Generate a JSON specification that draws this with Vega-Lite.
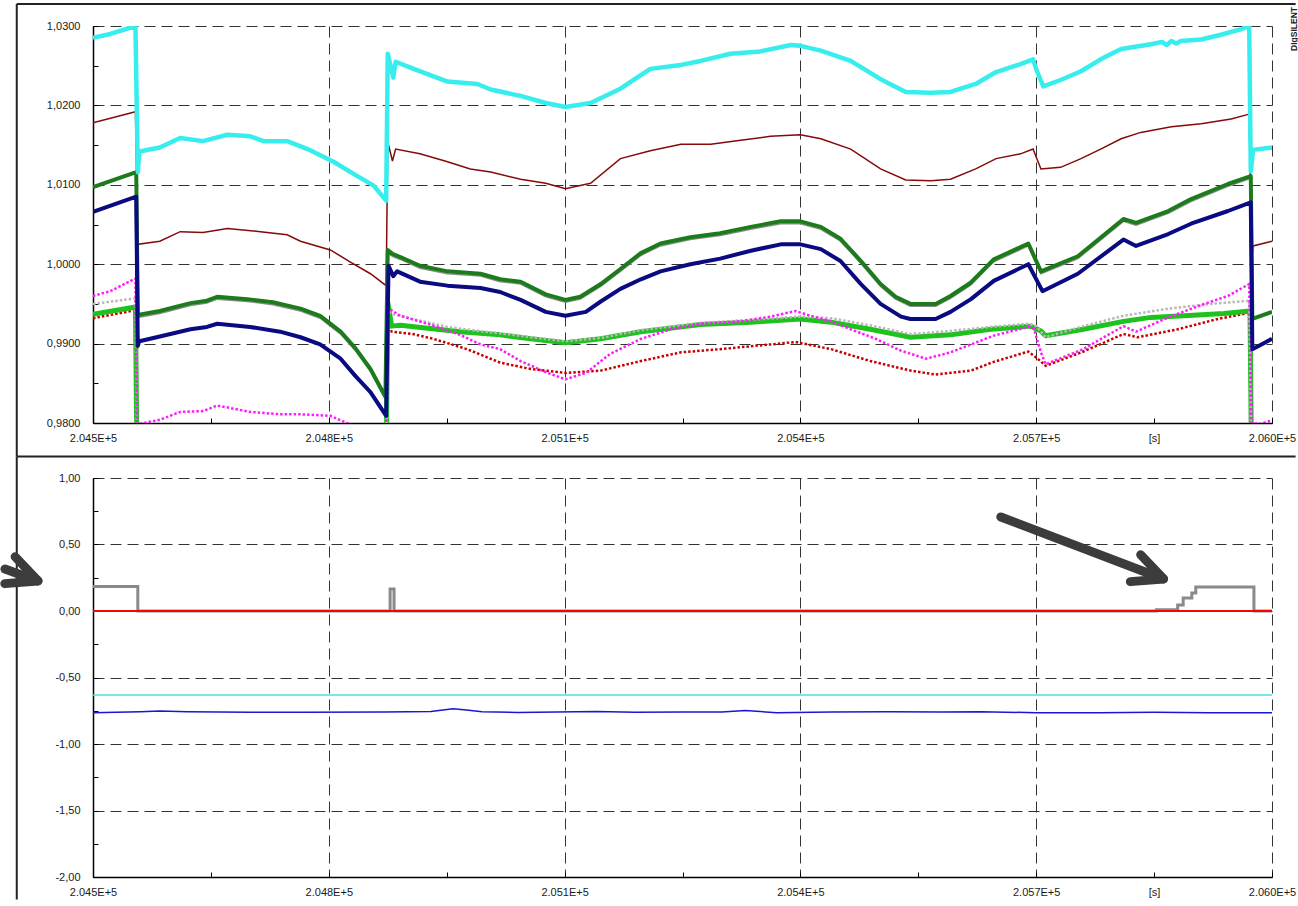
{
  "$schema": "https://vega.github.io/schema/vega-lite/v6.json",
  "background": "white",
  "padding": {"left": 0, "top": 3, "right": 0, "bottom": 0},
  "spacing": 55,
  "bounds": "flush",
  "config": {
    "view": {"stroke": null},
    "axis": {
      "labelFont": "Liberation Sans",
      "labelFontSize": 11,
      "labelColor": "#1a1a1a",
      "domainColor": "#000000",
      "domainWidth": 1.5,
      "tickColor": "#000000",
      "tickWidth": 1,
      "gridColor": "#333333",
      "gridDash": [11, 6],
      "gridWidth": 1,
      "labelOverlap": false
    }
  },
  "datasets": {
    "top": [
      {"s":"cy","t":204500,"v":1.0285},{"s":"cy","t":204522,"v":1.0290},{"s":"cy","t":204554,"v":1.0300},{"s":"cy","t":204557,"v":1.0116},{"s":"cy","t":204559,"v":1.0142},{"s":"cy","t":204585,"v":1.0147},{"s":"cy","t":204611,"v":1.0159},{"s":"cy","t":204640,"v":1.0155},{"s":"cy","t":204671,"v":1.0163},{"s":"cy","t":204700,"v":1.0161},{"s":"cy","t":204717,"v":1.0155},{"s":"cy","t":204747,"v":1.0155},{"s":"cy","t":204773,"v":1.0145},{"s":"cy","t":204806,"v":1.0129},{"s":"cy","t":204831,"v":1.0114},{"s":"cy","t":204857,"v":1.0099},{"s":"cy","t":204873,"v":1.0080},{"s":"cy","t":204875,"v":1.0265},{"s":"cy","t":204882,"v":1.0235},{"s":"cy","t":204885,"v":1.0255},{"s":"cy","t":204908,"v":1.0246},{"s":"cy","t":204951,"v":1.0230},{"s":"cy","t":204989,"v":1.0227},{"s":"cy","t":205006,"v":1.0220},{"s":"cy","t":205044,"v":1.0212},{"s":"cy","t":205076,"v":1.0203},{"s":"cy","t":205101,"v":1.0198},{"s":"cy","t":205133,"v":1.0203},{"s":"cy","t":205171,"v":1.0221},{"s":"cy","t":205209,"v":1.0246},{"s":"cy","t":205248,"v":1.0251},{"s":"cy","t":205273,"v":1.0256},{"s":"cy","t":205311,"v":1.0265},{"s":"cy","t":205349,"v":1.0268},{"s":"cy","t":205388,"v":1.0276},{"s":"cy","t":205400,"v":1.0275},{"s":"cy","t":205426,"v":1.0269},{"s":"cy","t":205464,"v":1.0256},{"s":"cy","t":205502,"v":1.0233},{"s":"cy","t":205534,"v":1.0217},{"s":"cy","t":205566,"v":1.0216},{"s":"cy","t":205591,"v":1.0217},{"s":"cy","t":205623,"v":1.0227},{"s":"cy","t":205649,"v":1.0242},{"s":"cy","t":205680,"v":1.0252},{"s":"cy","t":205696,"v":1.0258},{"s":"cy","t":205701,"v":1.0243},{"s":"cy","t":205709,"v":1.0224},{"s":"cy","t":205731,"v":1.0232},{"s":"cy","t":205757,"v":1.0243},{"s":"cy","t":205782,"v":1.0258},{"s":"cy","t":205808,"v":1.0271},{"s":"cy","t":205846,"v":1.0277},{"s":"cy","t":205860,"v":1.0280},{"s":"cy","t":205866,"v":1.0276},{"s":"cy","t":205872,"v":1.0281},{"s":"cy","t":205878,"v":1.0278},{"s":"cy","t":205884,"v":1.0281},{"s":"cy","t":205910,"v":1.0283},{"s":"cy","t":205935,"v":1.0289},{"s":"cy","t":205961,"v":1.0296},{"s":"cy","t":205971,"v":1.0300},{"s":"cy","t":205973,"v":1.0117},{"s":"cy","t":205976,"v":1.0144},{"s":"cy","t":206000,"v":1.0147},

      {"s":"mr","t":204500,"v":1.0178},{"s":"mr","t":204554,"v":1.0192},{"s":"mr","t":204557,"v":1.0025},{"s":"mr","t":204585,"v":1.0029},{"s":"mr","t":204611,"v":1.0041},{"s":"mr","t":204640,"v":1.0040},{"s":"mr","t":204671,"v":1.0045},{"s":"mr","t":204713,"v":1.0041},{"s":"mr","t":204747,"v":1.0037},{"s":"mr","t":204764,"v":1.0029},{"s":"mr","t":204802,"v":1.0018},{"s":"mr","t":204827,"v":1.0003},{"s":"mr","t":204853,"v":0.9988},{"s":"mr","t":204873,"v":0.9973},{"s":"mr","t":204875,"v":1.0154},{"s":"mr","t":204881,"v":1.0130},{"s":"mr","t":204885,"v":1.0145},{"s":"mr","t":204916,"v":1.0139},{"s":"mr","t":204951,"v":1.0129},{"s":"mr","t":204980,"v":1.0120},{"s":"mr","t":205006,"v":1.0116},{"s":"mr","t":205044,"v":1.0107},{"s":"mr","t":205076,"v":1.0102},{"s":"mr","t":205101,"v":1.0095},{"s":"mr","t":205133,"v":1.0102},{"s":"mr","t":205171,"v":1.0133},{"s":"mr","t":205209,"v":1.0143},{"s":"mr","t":205248,"v":1.0151},{"s":"mr","t":205286,"v":1.0151},{"s":"mr","t":205324,"v":1.0156},{"s":"mr","t":205362,"v":1.0161},{"s":"mr","t":205400,"v":1.0163},{"s":"mr","t":205426,"v":1.0158},{"s":"mr","t":205464,"v":1.0145},{"s":"mr","t":205502,"v":1.0120},{"s":"mr","t":205534,"v":1.0106},{"s":"mr","t":205566,"v":1.0105},{"s":"mr","t":205591,"v":1.0107},{"s":"mr","t":205623,"v":1.0120},{"s":"mr","t":205649,"v":1.0133},{"s":"mr","t":205680,"v":1.0139},{"s":"mr","t":205696,"v":1.0145},{"s":"mr","t":205706,"v":1.0120},{"s":"mr","t":205731,"v":1.0122},{"s":"mr","t":205757,"v":1.0133},{"s":"mr","t":205782,"v":1.0145},{"s":"mr","t":205808,"v":1.0158},{"s":"mr","t":205833,"v":1.0166},{"s":"mr","t":205872,"v":1.0173},{"s":"mr","t":205910,"v":1.0177},{"s":"mr","t":205948,"v":1.0183},{"s":"mr","t":205971,"v":1.0189},{"s":"mr","t":205974,"v":1.0007},{"s":"mr","t":205976,"v":1.0023},{"s":"mr","t":206000,"v":1.0029},

      {"s":"gy","t":204557,"v":0.9933},{"s":"gy","t":204585,"v":0.9938},{"s":"gy","t":204624,"v":0.9948},{"s":"gy","t":204645,"v":0.9951},{"s":"gy","t":204658,"v":0.9956},{"s":"gy","t":204696,"v":0.9953},{"s":"gy","t":204729,"v":0.9949},{"s":"gy","t":204764,"v":0.9941},{"s":"gy","t":204789,"v":0.9932},{"s":"gy","t":204815,"v":0.9912},{"s":"gy","t":204834,"v":0.9891},{"s":"gy","t":204853,"v":0.9865},{"s":"gy","t":204872,"v":0.9830},{"s":"gy","t":204875,"v":1.0014},{"s":"gy","t":204881,"v":1.0010},{"s":"gy","t":204891,"v":1.0006},{"s":"gy","t":204916,"v":0.9995},{"s":"gy","t":204951,"v":0.9988},{"s":"gy","t":204993,"v":0.9985},{"s":"gy","t":205018,"v":0.9978},{"s":"gy","t":205044,"v":0.9975},{"s":"gy","t":205076,"v":0.9959},{"s":"gy","t":205101,"v":0.9952},{"s":"gy","t":205120,"v":0.9956},{"s":"gy","t":205146,"v":0.9972},{"s":"gy","t":205171,"v":0.9991},{"s":"gy","t":205197,"v":1.0011},{"s":"gy","t":205222,"v":1.0023},{"s":"gy","t":205260,"v":1.0031},{"s":"gy","t":205298,"v":1.0036},{"s":"gy","t":205337,"v":1.0044},{"s":"gy","t":205375,"v":1.0051},{"s":"gy","t":205400,"v":1.0051},{"s":"gy","t":205426,"v":1.0044},{"s":"gy","t":205451,"v":1.0029},{"s":"gy","t":205477,"v":1.0001},{"s":"gy","t":205502,"v":0.9972},{"s":"gy","t":205521,"v":0.9956},{"s":"gy","t":205540,"v":0.9947},{"s":"gy","t":205572,"v":0.9947},{"s":"gy","t":205591,"v":0.9957},{"s":"gy","t":205617,"v":0.9974},{"s":"gy","t":205646,"v":1.0003},{"s":"gy","t":205690,"v":1.0023},{"s":"gy","t":205706,"v":0.9988},{"s":"gy","t":205753,"v":1.0007},{"s":"gy","t":205811,"v":1.0054},{"s":"gy","t":205827,"v":1.0049},{"s":"gy","t":205868,"v":1.0064},{"s":"gy","t":205897,"v":1.0079},{"s":"gy","t":205944,"v":1.0098},{"s":"gy","t":205972,"v":1.0108},

      {"s":"gr","t":204500,"v":1.0097},{"s":"gr","t":204555,"v":1.0116},{"s":"gr","t":204557,"v":0.9936},{"s":"gr","t":204585,"v":0.9941},{"s":"gr","t":204624,"v":0.9951},{"s":"gr","t":204645,"v":0.9954},{"s":"gr","t":204658,"v":0.9959},{"s":"gr","t":204696,"v":0.9956},{"s":"gr","t":204729,"v":0.9952},{"s":"gr","t":204764,"v":0.9944},{"s":"gr","t":204789,"v":0.9935},{"s":"gr","t":204815,"v":0.9915},{"s":"gr","t":204834,"v":0.9894},{"s":"gr","t":204853,"v":0.9868},{"s":"gr","t":204872,"v":0.9833},{"s":"gr","t":204875,"v":1.0018},{"s":"gr","t":204881,"v":1.0013},{"s":"gr","t":204891,"v":1.0009},{"s":"gr","t":204916,"v":0.9998},{"s":"gr","t":204951,"v":0.9991},{"s":"gr","t":204993,"v":0.9988},{"s":"gr","t":205018,"v":0.9981},{"s":"gr","t":205044,"v":0.9978},{"s":"gr","t":205076,"v":0.9962},{"s":"gr","t":205101,"v":0.9955},{"s":"gr","t":205120,"v":0.9959},{"s":"gr","t":205146,"v":0.9975},{"s":"gr","t":205171,"v":0.9994},{"s":"gr","t":205197,"v":1.0014},{"s":"gr","t":205222,"v":1.0026},{"s":"gr","t":205260,"v":1.0034},{"s":"gr","t":205298,"v":1.0039},{"s":"gr","t":205337,"v":1.0047},{"s":"gr","t":205375,"v":1.0054},{"s":"gr","t":205400,"v":1.0054},{"s":"gr","t":205426,"v":1.0047},{"s":"gr","t":205451,"v":1.0032},{"s":"gr","t":205477,"v":1.0004},{"s":"gr","t":205502,"v":0.9975},{"s":"gr","t":205521,"v":0.9959},{"s":"gr","t":205540,"v":0.9950},{"s":"gr","t":205572,"v":0.9950},{"s":"gr","t":205591,"v":0.9960},{"s":"gr","t":205617,"v":0.9977},{"s":"gr","t":205646,"v":1.0006},{"s":"gr","t":205690,"v":1.0026},{"s":"gr","t":205706,"v":0.9991},{"s":"gr","t":205753,"v":1.0010},{"s":"gr","t":205811,"v":1.0057},{"s":"gr","t":205827,"v":1.0052},{"s":"gr","t":205868,"v":1.0067},{"s":"gr","t":205897,"v":1.0082},{"s":"gr","t":205944,"v":1.0101},{"s":"gr","t":205973,"v":1.0111},{"s":"gr","t":205975,"v":0.9931},{"s":"gr","t":206000,"v":0.9940},

      {"s":"nv","t":204500,"v":1.0066},{"s":"nv","t":204555,"v":1.0085},{"s":"nv","t":204557,"v":0.9897},{"s":"nv","t":204559,"v":0.9903},{"s":"nv","t":204585,"v":0.9909},{"s":"nv","t":204624,"v":0.9918},{"s":"nv","t":204645,"v":0.9921},{"s":"nv","t":204658,"v":0.9925},{"s":"nv","t":204700,"v":0.9921},{"s":"nv","t":204738,"v":0.9915},{"s":"nv","t":204764,"v":0.9908},{"s":"nv","t":204789,"v":0.9899},{"s":"nv","t":204815,"v":0.9881},{"s":"nv","t":204834,"v":0.9859},{"s":"nv","t":204853,"v":0.9839},{"s":"nv","t":204873,"v":0.9809},{"s":"nv","t":204876,"v":0.9998},{"s":"nv","t":204882,"v":0.9985},{"s":"nv","t":204887,"v":0.9991},{"s":"nv","t":204916,"v":0.9978},{"s":"nv","t":204951,"v":0.9973},{"s":"nv","t":204993,"v":0.9970},{"s":"nv","t":205018,"v":0.9965},{"s":"nv","t":205044,"v":0.9955},{"s":"nv","t":205076,"v":0.9940},{"s":"nv","t":205101,"v":0.9935},{"s":"nv","t":205127,"v":0.9940},{"s":"nv","t":205146,"v":0.9953},{"s":"nv","t":205171,"v":0.9969},{"s":"nv","t":205197,"v":0.9981},{"s":"nv","t":205222,"v":0.9991},{"s":"nv","t":205260,"v":1.0000},{"s":"nv","t":205298,"v":1.0007},{"s":"nv","t":205337,"v":1.0017},{"s":"nv","t":205375,"v":1.0025},{"s":"nv","t":205400,"v":1.0025},{"s":"nv","t":205426,"v":1.0019},{"s":"nv","t":205451,"v":1.0004},{"s":"nv","t":205477,"v":0.9975},{"s":"nv","t":205502,"v":0.9950},{"s":"nv","t":205528,"v":0.9934},{"s":"nv","t":205540,"v":0.9931},{"s":"nv","t":205572,"v":0.9931},{"s":"nv","t":205591,"v":0.9940},{"s":"nv","t":205617,"v":0.9956},{"s":"nv","t":205646,"v":0.9979},{"s":"nv","t":205690,"v":1.0000},{"s":"nv","t":205708,"v":0.9966},{"s":"nv","t":205753,"v":0.9988},{"s":"nv","t":205811,"v":1.0031},{"s":"nv","t":205827,"v":1.0023},{"s":"nv","t":205868,"v":1.0038},{"s":"nv","t":205897,"v":1.0051},{"s":"nv","t":205944,"v":1.0067},{"s":"nv","t":205973,"v":1.0078},{"s":"nv","t":205975,"v":0.9893},{"s":"nv","t":205983,"v":0.9897},{"s":"nv","t":206000,"v":0.9906},

      {"s":"bg","t":204500,"v":0.9937},{"s":"bg","t":204554,"v":0.9946},{"s":"bg","t":204556,"v":0.975},{"s":"bg","t":204873,"v":0.975},{"s":"bg","t":204875,"v":0.9952},{"s":"bg","t":204880,"v":0.9922},{"s":"bg","t":204891,"v":0.9923},{"s":"bg","t":204929,"v":0.9919},{"s":"bg","t":204967,"v":0.9915},{"s":"bg","t":205018,"v":0.9911},{"s":"bg","t":205057,"v":0.9906},{"s":"bg","t":205101,"v":0.9901},{"s":"bg","t":205146,"v":0.9906},{"s":"bg","t":205197,"v":0.9915},{"s":"bg","t":205273,"v":0.9924},{"s":"bg","t":205337,"v":0.9927},{"s":"bg","t":205400,"v":0.9931},{"s":"bg","t":205439,"v":0.9927},{"s":"bg","t":205489,"v":0.9918},{"s":"bg","t":205540,"v":0.9908},{"s":"bg","t":205591,"v":0.9911},{"s":"bg","t":205642,"v":0.9918},{"s":"bg","t":205693,"v":0.9922},{"s":"bg","t":205706,"v":0.9916},{"s":"bg","t":205712,"v":0.9910},{"s":"bg","t":205760,"v":0.9918},{"s":"bg","t":205811,"v":0.9928},{"s":"bg","t":205846,"v":0.9933},{"s":"bg","t":205888,"v":0.9935},{"s":"bg","t":205939,"v":0.9938},{"s":"bg","t":205972,"v":0.9941},{"s":"bg","t":205974,"v":0.975},{"s":"bg","t":206000,"v":0.975},

      {"s":"lg","t":204500,"v":0.9950},{"s":"lg","t":204554,"v":0.9957},{"s":"lg","t":204556,"v":0.975},{"s":"lg","t":204873,"v":0.975},{"s":"lg","t":204876,"v":0.9940},{"s":"lg","t":204882,"v":0.9937},{"s":"lg","t":204907,"v":0.9931},{"s":"lg","t":204951,"v":0.9921},{"s":"lg","t":204998,"v":0.9915},{"s":"lg","t":205018,"v":0.9913},{"s":"lg","t":205057,"v":0.9908},{"s":"lg","t":205101,"v":0.9903},{"s":"lg","t":205146,"v":0.9907},{"s":"lg","t":205197,"v":0.9917},{"s":"lg","t":205273,"v":0.9926},{"s":"lg","t":205337,"v":0.9930},{"s":"lg","t":205400,"v":0.9934},{"s":"lg","t":205439,"v":0.9932},{"s":"lg","t":205489,"v":0.9923},{"s":"lg","t":205540,"v":0.9912},{"s":"lg","t":205591,"v":0.9916},{"s":"lg","t":205642,"v":0.9921},{"s":"lg","t":205690,"v":0.9925},{"s":"lg","t":205700,"v":0.9922},{"s":"lg","t":205712,"v":0.9908},{"s":"lg","t":205760,"v":0.9922},{"s":"lg","t":205811,"v":0.9935},{"s":"lg","t":205868,"v":0.9944},{"s":"lg","t":205922,"v":0.9950},{"s":"lg","t":205971,"v":0.9954},{"s":"lg","t":205974,"v":0.975},{"s":"lg","t":206000,"v":0.975},

      {"s":"rd","t":204500,"v":0.9932},{"s":"rd","t":204554,"v":0.9942},{"s":"rd","t":204556,"v":0.975},{"s":"rd","t":204873,"v":0.975},{"s":"rd","t":204875,"v":0.9924},{"s":"rd","t":204880,"v":0.9915},{"s":"rd","t":204907,"v":0.9912},{"s":"rd","t":204933,"v":0.9906},{"s":"rd","t":204976,"v":0.9893},{"s":"rd","t":205018,"v":0.9876},{"s":"rd","t":205057,"v":0.9868},{"s":"rd","t":205101,"v":0.9863},{"s":"rd","t":205146,"v":0.9866},{"s":"rd","t":205197,"v":0.9878},{"s":"rd","t":205248,"v":0.9889},{"s":"rd","t":205298,"v":0.9893},{"s":"rd","t":205362,"v":0.9899},{"s":"rd","t":205394,"v":0.9902},{"s":"rd","t":205439,"v":0.9893},{"s":"rd","t":205489,"v":0.9878},{"s":"rd","t":205540,"v":0.9866},{"s":"rd","t":205572,"v":0.9861},{"s":"rd","t":205617,"v":0.9866},{"s":"rd","t":205646,"v":0.9877},{"s":"rd","t":205690,"v":0.9890},{"s":"rd","t":205702,"v":0.9881},{"s":"rd","t":205712,"v":0.9872},{"s":"rd","t":205760,"v":0.9890},{"s":"rd","t":205811,"v":0.9912},{"s":"rd","t":205829,"v":0.9908},{"s":"rd","t":205880,"v":0.9918},{"s":"rd","t":205931,"v":0.9931},{"s":"rd","t":205972,"v":0.9939},{"s":"rd","t":205974,"v":0.975},{"s":"rd","t":206000,"v":0.975},

      {"s":"mg","t":204500,"v":0.9960},{"s":"mg","t":204522,"v":0.9966},{"s":"mg","t":204554,"v":0.9982},{"s":"mg","t":204556,"v":0.9800},{"s":"mg","t":204559,"v":0.9799},{"s":"mg","t":204585,"v":0.9804},{"s":"mg","t":204611,"v":0.9814},{"s":"mg","t":204640,"v":0.9815},{"s":"mg","t":204658,"v":0.9822},{"s":"mg","t":204700,"v":0.9814},{"s":"mg","t":204738,"v":0.9811},{"s":"mg","t":204764,"v":0.9811},{"s":"mg","t":204802,"v":0.9809},{"s":"mg","t":204821,"v":0.9801},{"s":"mg","t":204834,"v":0.9794},{"s":"mg","t":204860,"v":0.9780},{"s":"mg","t":204873,"v":0.9770},{"s":"mg","t":204875,"v":0.9945},{"s":"mg","t":204891,"v":0.9935},{"s":"mg","t":204929,"v":0.9924},{"s":"mg","t":204967,"v":0.9911},{"s":"mg","t":204993,"v":0.9899},{"s":"mg","t":205018,"v":0.9893},{"s":"mg","t":205044,"v":0.9878},{"s":"mg","t":205076,"v":0.9864},{"s":"mg","t":205101,"v":0.9855},{"s":"mg","t":205127,"v":0.9863},{"s":"mg","t":205158,"v":0.9887},{"s":"mg","t":205197,"v":0.9906},{"s":"mg","t":205235,"v":0.9918},{"s":"mg","t":205273,"v":0.9925},{"s":"mg","t":205324,"v":0.9928},{"s":"mg","t":205362,"v":0.9934},{"s":"mg","t":205394,"v":0.9941},{"s":"mg","t":205413,"v":0.9935},{"s":"mg","t":205439,"v":0.9928},{"s":"mg","t":205464,"v":0.9918},{"s":"mg","t":205496,"v":0.9906},{"s":"mg","t":205528,"v":0.9891},{"s":"mg","t":205560,"v":0.9881},{"s":"mg","t":205591,"v":0.9889},{"s":"mg","t":205646,"v":0.9910},{"s":"mg","t":205690,"v":0.9921},{"s":"mg","t":205697,"v":0.9919},{"s":"mg","t":205706,"v":0.9889},{"s":"mg","t":205712,"v":0.9874},{"s":"mg","t":205760,"v":0.9893},{"s":"mg","t":205811,"v":0.9922},{"s":"mg","t":205827,"v":0.9915},{"s":"mg","t":205868,"v":0.9933},{"s":"mg","t":205914,"v":0.9950},{"s":"mg","t":205944,"v":0.9960},{"s":"mg","t":205971,"v":0.9975},{"s":"mg","t":205974,"v":0.9800},{"s":"mg","t":205986,"v":0.9799},{"s":"mg","t":205995,"v":0.9802},{"s":"mg","t":206000,"v":0.9803}
    ],
    "bot": [
      {"s":"g","t":204500,"v":0.185},{"s":"g","t":204557,"v":0},{"s":"g","t":204878,"v":0.165},{"s":"g","t":204883,"v":0},{"s":"g","t":205853,"v":0.01},{"s":"g","t":205880,"v":0.045},{"s":"g","t":205887,"v":0.098},{"s":"g","t":205898,"v":0.135},{"s":"g","t":205903,"v":0.18},{"s":"g","t":205977,"v":0},{"s":"g","t":206000,"v":0},
      {"s":"r","t":204500,"v":0},{"s":"r","t":206000,"v":0},
      {"s":"c","t":204500,"v":-0.632},{"s":"c","t":206000,"v":-0.632},
      {"s":"b","t":204500,"v":-0.765},{"s":"b","t":204560,"v":-0.757},{"s":"b","t":204585,"v":-0.752},{"s":"b","t":204620,"v":-0.757},{"s":"b","t":204660,"v":-0.760},{"s":"b","t":204700,"v":-0.762},{"s":"b","t":204770,"v":-0.762},{"s":"b","t":204870,"v":-0.760},{"s":"b","t":204930,"v":-0.756},{"s":"b","t":204958,"v":-0.735},{"s":"b","t":204975,"v":-0.745},{"s":"b","t":204995,"v":-0.758},{"s":"b","t":205040,"v":-0.763},{"s":"b","t":205090,"v":-0.760},{"s":"b","t":205140,"v":-0.756},{"s":"b","t":205190,"v":-0.762},{"s":"b","t":205250,"v":-0.759},{"s":"b","t":205300,"v":-0.760},{"s":"b","t":205330,"v":-0.748},{"s":"b","t":205370,"v":-0.765},{"s":"b","t":205440,"v":-0.760},{"s":"b","t":205510,"v":-0.757},{"s":"b","t":205580,"v":-0.760},{"s":"b","t":205630,"v":-0.757},{"s":"b","t":205700,"v":-0.765},{"s":"b","t":205780,"v":-0.765},{"s":"b","t":205850,"v":-0.762},{"s":"b","t":205920,"v":-0.765},{"s":"b","t":206000,"v":-0.765}
    ],
    "arr": [
      {"a":"L","e":0,"t":204388,"v":0.316},{"a":"L","e":1,"t":204430,"v":0.226},
      {"a":"R","e":0,"t":205655,"v":0.707},{"a":"R","e":1,"t":205862,"v":0.241}
    ],
    "frameTop": [
      {"f":"T","o":0,"t":204403,"v":1.03277},{"f":"T","o":1,"t":206030,"v":1.03277},
      {"f":"L","o":0,"t":204403,"v":1.03277},{"f":"L","o":1,"t":204403,"v":0.97578},
      {"f":"S","o":0,"t":204403,"v":0.97578},{"f":"S","o":1,"t":206030,"v":0.97578}
    ],
    "frameBot": [
      {"f":"L","o":0,"t":204403,"v":1.1617},{"f":"L","o":1,"t":204403,"v":-2.17}
    ]
  },
  "vconcat": [
    {
      "width": 1179,
      "height": 397,
      "title": {"text": "DIgSILENT", "orient": "right", "anchor": "start", "frame": "group", "angle": -90, "align": "right", "baseline": "bottom", "dx": 19, "offset": -6, "font": "Liberation Sans", "fontSize": 8.5, "fontWeight": "bold", "color": "#222222"},
      "data": {"name": "top"},
      "encoding": {
        "x": {"field": "t", "type": "quantitative",
          "scale": {"domain": [204500, 206000], "nice": false, "zero": false},
          "axis": {"title": null,
            "values": [204500,204650,204800,204950,205100,205250,205400,205550,205700,205850,206000],
            "labelExpr": "(round(datum.value)-204500)%300==0 ? format(datum.value/100000,'.3f')+'E+5' : (round(datum.value)==205850 ? '[s]' : '')",
            "labelFlush": false, "grid": true,
            "gridOpacity": {"condition": {"test": "(round(datum.value)-204500)%300==0", "value": 1}, "value": 0},
            "tickSize": -5, "labelPadding": 14}},
        "y": {"field": "v", "type": "quantitative",
          "scale": {"domain": [0.98, 1.03], "nice": false, "zero": false},
          "axis": {"title": null,
            "values": [0.98,0.985,0.99,0.995,1,1.005,1.01,1.015,1.02,1.025,1.03],
            "labelExpr": "abs(datum.value*100-round(datum.value*100))<0.01 ? replace(format(datum.value,'.4f'),'.',',') : ''",
            "grid": true,
            "gridOpacity": {"condition": {"test": "abs(datum.value*100-round(datum.value*100))<0.01", "value": 1}, "value": 0},
            "tickSize": -5, "labelPadding": 18}}
      },
      "layer": [
        {"transform": [{"filter": "datum.s==='rd'"}], "mark": {"type": "line", "clip": true, "color": "#C80000", "strokeWidth": 2.5, "strokeDash": [2.5, 2]}, "encoding": {}},
        {"transform": [{"filter": "datum.s==='bg'"}], "mark": {"type": "line", "clip": true, "color": "#1EC21E", "strokeWidth": 5, "strokeJoin": "round"}, "encoding": {}},
        {"transform": [{"filter": "datum.s==='lg'"}], "mark": {"type": "line", "clip": true, "color": "#B8B8B8", "strokeWidth": 2.5, "strokeDash": [2.5, 2]}, "encoding": {}},
        {"transform": [{"filter": "datum.s==='mg'"}], "mark": {"type": "line", "clip": true, "color": "#FF1CFF", "strokeWidth": 2.5, "strokeDash": [2.5, 2]}, "encoding": {}},
        {"transform": [{"filter": "datum.s==='mr'"}], "mark": {"type": "line", "clip": true, "color": "#850A0A", "strokeWidth": 1.5}, "encoding": {}},
        {"transform": [{"filter": "datum.s==='gy'"}], "mark": {"type": "line", "clip": true, "color": "#8C8C8C", "strokeWidth": 1.5}, "encoding": {}},
        {"transform": [{"filter": "datum.s==='gr'"}], "mark": {"type": "line", "clip": true, "color": "#1C7C1C", "strokeWidth": 4, "strokeJoin": "round"}, "encoding": {}},
        {"transform": [{"filter": "datum.s==='nv'"}], "mark": {"type": "line", "clip": true, "color": "#0A0A82", "strokeWidth": 4, "strokeJoin": "round"}, "encoding": {}},
        {"transform": [{"filter": "datum.s==='cy'"}], "mark": {"type": "line", "clip": true, "color": "#38EDED", "strokeWidth": 4.5, "strokeJoin": "round"}, "encoding": {}},
        {"data": {"name": "frameTop"}, "mark": {"type": "line", "clip": false, "color": "#222222", "strokeWidth": 2, "strokeJoin": "round"}, "encoding": {"detail": {"field": "f"}, "order": {"field": "o"}}}
      ]
    },
    {
      "width": 1179,
      "height": 399,
      "data": {"name": "bot"},
      "encoding": {
        "x": {"field": "t", "type": "quantitative",
          "scale": {"domain": [204500, 206000], "nice": false, "zero": false},
          "axis": {"title": null,
            "values": [204500,204650,204800,204950,205100,205250,205400,205550,205700,205850,206000],
            "labelExpr": "(round(datum.value)-204500)%300==0 ? format(datum.value/100000,'.3f')+'E+5' : (round(datum.value)==205850 ? '[s]' : '')",
            "labelFlush": false, "grid": true,
            "gridOpacity": {"condition": {"test": "(round(datum.value)-204500)%300==0", "value": 1}, "value": 0},
            "tickSize": -5, "labelPadding": 14}},
        "y": {"field": "v", "type": "quantitative",
          "scale": {"domain": [-2, 1], "nice": false, "zero": false},
          "axis": {"title": null,
            "values": [-2,-1.75,-1.5,-1.25,-1,-0.75,-0.5,-0.25,0,0.25,0.5,0.75,1],
            "labelExpr": "abs(datum.value*2-round(datum.value*2))<0.01 ? replace(replace(format(datum.value,'.2f'),'.',','),'\u2212','-') : ''",
            "grid": true,
            "gridOpacity": {"condition": {"test": "abs(datum.value*2-round(datum.value*2))<0.01", "value": 1}, "value": 0},
            "tickSize": -5, "labelPadding": 18}}
      },
      "layer": [
        {"transform": [{"filter": "datum.s==='c'"}], "mark": {"type": "line", "clip": true, "color": "#48E2E2", "strokeWidth": 1.5}, "encoding": {}},
        {"transform": [{"filter": "datum.s==='b'"}], "mark": {"type": "line", "clip": true, "color": "#1818D2", "strokeWidth": 1.5}, "encoding": {}},
        {"transform": [{"filter": "datum.s==='g'"}], "mark": {"type": "line", "clip": true, "color": "#8A8A8A", "strokeWidth": 3, "interpolate": "step-after"}, "encoding": {}},
        {"transform": [{"filter": "datum.s==='r'"}], "mark": {"type": "line", "clip": true, "color": "#FF0000", "strokeWidth": 2}, "encoding": {}},
        {"data": {"name": "frameBot"}, "mark": {"type": "line", "clip": false, "color": "#222222", "strokeWidth": 2, "strokeJoin": "round"}, "encoding": {"detail": {"field": "f"}, "order": {"field": "o"}}},
        {"data": {"name": "arr"}, "mark": {"type": "line", "color": "#3C3C3C", "strokeWidth": 9, "strokeCap": "round", "strokeJoin": "round"}, "encoding": {"detail": {"field": "a"}}},
        {"data": {"name": "arr"}, "transform": [{"filter": "datum.e===1"}], "mark": {"type": "point", "shape": "M -1 -0.48 L 0 0 L -1 0.48", "size": 3600, "angle": 21, "filled": false, "stroke": "#3C3C3C", "strokeWidth": 9, "strokeCap": "round", "strokeJoin": "round", "opacity": 1}, "encoding": {}}
      ]
    }
  ]
}
